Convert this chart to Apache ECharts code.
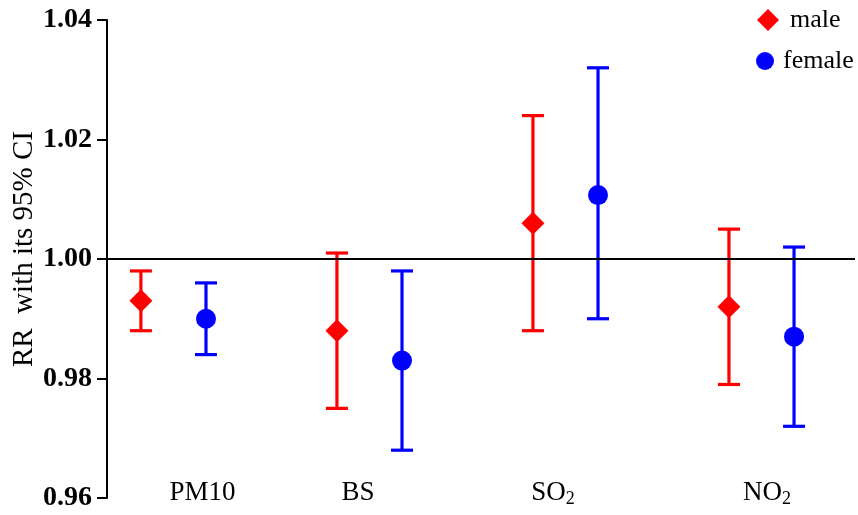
<!DOCTYPE html>
<html>
<head>
<meta charset="utf-8">
<script src="https://cdn.jsdelivr.net/npm/echarts@6/dist/echarts.min.js"></script>
<style>
  html, body { margin: 0; padding: 0; background: #fff; }
  #chart { width: 858px; height: 515px; }
</style>
</head>
<body>
<div id="chart"></div>
<script>
// Pollutants and relative risks (RR) with 95% confidence limits
const categories = ['PM10', 'BS', 'SO2', 'NO2'];
const maleRR    = [0.993, 0.988, 1.006, 0.992];
const maleLow   = [0.988, 0.975, 0.988, 0.979];
const maleHigh  = [0.998, 1.001, 1.024, 1.005];
const femaleRR   = [0.990, 0.983, 1.0107, 0.987];
const femaleLow  = [0.984, 0.968, 0.990, 0.972];
const femaleHigh = [0.996, 0.998, 1.032, 1.002];
const yTicks = [0.96, 0.98, 1.00, 1.02, 1.04];

const FONT = 'Liberation Serif';
const RED = '#ff0000';
const BLUE = '#0000ff';
const SHIFT = 0.166; // horizontal offset of each sex around the category centre

function points(rr, sign) {
  return rr.map((v, i) => [i + sign * SHIFT, v]);
}
function bars(lo, hi, sign) {
  return lo.map((v, i) => [i + sign * SHIFT, v, hi[i]]);
}

function errorBarRenderer(color) {
  return function (params, api) {
    const x = api.value(0);
    const lo = api.coord([x, api.value(1)]);
    const hi = api.coord([x, api.value(2)]);
    const half = 11;
    const style = { stroke: color, lineWidth: 3.2 };
    return {
      type: 'group',
      children: [
        { type: 'line', shape: { x1: lo[0], y1: lo[1], x2: hi[0], y2: hi[1] }, style },
        { type: 'line', shape: { x1: hi[0] - half, y1: hi[1], x2: hi[0] + half, y2: hi[1] }, style },
        { type: 'line', shape: { x1: lo[0] - half, y1: lo[1], x2: lo[0] + half, y2: lo[1] }, style }
      ]
    };
  };
}

// Category labels: chemical formulas get subscript digits
const labelShift = { PM10: [0, 0, 0, 4], BS: [0, 59, 0, 0], SO2: [0, 43, 0, 0], NO2: [0, 0, 0, 11] };
function catLabel(name) {
  const m = name.match(/^([A-Z]+O)(2)$/);
  const key = 'k' + categories.indexOf(name);
  if (m) return '{' + key + '|' + m[1] + '}{s' + key + '|' + m[2] + '}';
  return '{' + key + '|' + name + '}';
}
const rich = {};
categories.forEach((c, i) => {
  const pad = labelShift[c].slice();
  const hasSub = /O2$/.test(c);
  rich['k' + i] = {
    fontFamily: FONT, fontSize: 27, color: '#000', lineHeight: 30,
    padding: hasSub ? [pad[0], 0, 0, pad[3]] : pad
  };
  rich['sk' + i] = {
    fontFamily: FONT, fontSize: 18, color: '#000', lineHeight: 30,
    verticalAlign: 'bottom', padding: [11, pad[1], 0, 0]
  };
});

const legendText = { fontFamily: FONT, fontSize: 26, color: '#000' };

const chart = echarts.init(document.getElementById('chart'), null, { renderer: 'canvas' });
chart.setOption({
  animation: false,
  backgroundColor: '#fff',
  grid: { left: 107, right: 3, top: 20, bottom: 17, containLabel: false, outerBoundsMode: 'none' },
  legend: [
    {
      orient: 'vertical',
      left: 757,
      top: 7,
      padding: 0,
      itemWidth: 22,
      itemHeight: 22,
      textStyle: Object.assign({ padding: [0, 0, 0, 6] }, legendText),
      data: [{ name: 'male', icon: 'diamond' }]
    },
    {
      orient: 'vertical',
      left: 756,
      top: 48,
      padding: 0,
      itemWidth: 18,
      itemHeight: 18,
      textStyle: Object.assign({ padding: [0, 0, 0, 4] }, legendText),
      data: [{ name: 'female', icon: 'circle' }]
    }
  ],
  xAxis: [
    {
      type: 'value',
      min: -0.339,
      max: 3.477,
      show: false
    },
    {
      type: 'category',
      data: categories,
      position: 'bottom',
      boundaryGap: true,
      axisLine: { show: false },
      axisTick: { show: false },
      splitLine: { show: false },
      axisLabel: {
        margin: -20,
        interval: 0,
        formatter: catLabel,
        rich: rich
      }
    }
  ],
  yAxis: {
    type: 'value',
    min: yTicks[0],
    max: yTicks[yTicks.length - 1],
    interval: 0.02,
    name: 'RR  with its 95% CI',
    nameLocation: 'middle',
    nameGap: 68,
    nameMoveOverlap: false,
    nameTextStyle: { fontFamily: FONT, fontSize: 29, color: '#000', padding: [0, 0, 0, 20] },
    axisLine: { show: true, onZero: false, lineStyle: { color: '#000', width: 2 } },
    axisTick: { show: true, length: 10, lineStyle: { color: '#000', width: 2 } },
    splitLine: { show: false },
    axisLabel: {
      margin: 15,
      fontFamily: FONT,
      fontSize: 28,
      fontWeight: 'bold',
      color: '#000',
      formatter: v => v.toFixed(2)
    }
  },
  series: [
    {
      name: 'maleCI',
      type: 'custom',
      xAxisIndex: 0,
      renderItem: errorBarRenderer(RED),
      data: bars(maleLow, maleHigh, -1),
      z: 2,
      markLine: {
        silent: true,
        symbol: 'none',
        label: { show: false },
        lineStyle: { color: '#000', width: 2, type: 'solid' },
        data: [{ yAxis: 1.0 }]
      }
    },
    {
      name: 'femaleCI',
      type: 'custom',
      xAxisIndex: 0,
      renderItem: errorBarRenderer(BLUE),
      data: bars(femaleLow, femaleHigh, 1),
      z: 2
    },
    {
      name: 'male',
      type: 'scatter',
      xAxisIndex: 0,
      symbol: 'diamond',
      symbolSize: [23, 23],
      itemStyle: { color: RED, opacity: 1 },
      data: points(maleRR, -1),
      z: 3
    },
    {
      name: 'female',
      type: 'scatter',
      xAxisIndex: 0,
      symbol: 'circle',
      symbolSize: 20,
      itemStyle: { color: BLUE, opacity: 1 },
      data: points(femaleRR, 1),
      z: 3
    }
  ]
});
</script>
</body>
</html>
